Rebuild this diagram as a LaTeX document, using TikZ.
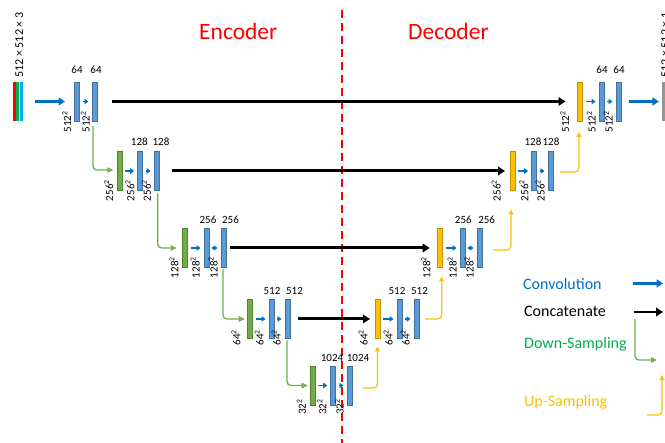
\documentclass[tikz,border=0pt]{standalone}
\usepackage{fontspec}
\setmainfont{Carlito}
\usetikzlibrary{arrows.meta}
\definecolor{convblue}{RGB}{0,112,192}
\definecolor{barblue}{RGB}{91,155,213}
\definecolor{barblueD}{RGB}{65,113,156}
\definecolor{bargreen}{RGB}{112,173,71}
\definecolor{bargreenD}{RGB}{84,130,53}
\definecolor{baryellow}{RGB}{255,192,0}
\definecolor{baryellowD}{RGB}{191,144,0}
\definecolor{downgreen}{RGB}{112,173,71}
\definecolor{legendgreen}{RGB}{0,176,80}
\definecolor{upyellow}{RGB}{255,192,0}
\definecolor{inred}{RGB}{255,0,0}
\definecolor{ingreen}{RGB}{0,176,80}
\definecolor{incyan}{RGB}{0,176,240}
\definecolor{outgray}{RGB}{150,150,150}
\tikzset{
  barbase/.style={line width=0.6pt, minimum width=5pt, minimum height=39pt, inner sep=0pt, outer sep=0pt},
  bluebar/.style={barbase, fill=barblue, draw=barblueD},
  greenbar/.style={barbase, fill=bargreen, draw=bargreenD},
  yellowbar/.style={barbase, fill=baryellow, draw=baryellowD},
  inbar/.style={minimum width=3pt, minimum height=39pt, inner sep=0pt, outer sep=0pt},
  convarr/.style={convblue, line width=2.2pt, -{Triangle[length=6.5pt,width=8pt]}},
  sconvarr/.style={convblue, line width=1.8pt, -{Triangle[length=4pt,width=5.5pt]}},
  catarr/.style={black, line width=3pt, -{Triangle[length=7pt,width=8.5pt]}},
  downarr/.style={downgreen, line width=1.3pt, rounded corners=4pt, -{Triangle[length=6pt,width=5.5pt,fill=downgreen!55]}},
  uparr/.style={upyellow, line width=1.2pt, rounded corners=4pt, -{Triangle[length=5pt,width=5pt]}},
  numlab/.style={font=\fontsize{11}{13}\selectfont, inner sep=0pt, anchor=base},
  dimlab/.style={font=\fontsize{11}{13}\selectfont, inner sep=0pt, rotate=90, anchor=south},
  headlab/.style={font=\fontsize{23.5}{28}\selectfont, text=red, inner sep=0pt, anchor=base west},
  leglab/.style={font=\fontsize{16}{19}\selectfont, inner sep=0pt, anchor=base west},
}
\newcommand{\sq}[1]{#1\textsuperscript{2}}
\begin{document}
\begin{tikzpicture}[x=1pt,y=-1pt]
\clip (0,0) rectangle (665,443);
\fill[white] (0,0) rectangle (665,443);

% headers and divider
\node[headlab] (enc) at (199,39.3) {Encoder};
\node[headlab] (dec) at (408,39.3) {Decoder};
\draw[red, line width=2pt, dash pattern=on 8pt off 5pt] (341.7,10) -- (341.7,445);

% ---------- level 1 ----------
\node[inbar, fill=inred] (inR) at (14.7,101.5) {};
\node[inbar, fill=ingreen] (inG) at (17.8,101.5) {};
\node[inbar, fill=incyan] (inC) at (21.7,101.5) {};
\node[font=\fontsize{12}{14}\selectfont, inner sep=0pt, rotate=90, anchor=south west] (inlab) at (23.5,78) {512 × 512 × 3};
\node[bluebar] (L1a) at (77,101.5) {};
\node[bluebar] (L1b) at (94.5,101.5) {};
\node[yellowbar] (Y1) at (580,101.5) {};
\node[bluebar] (R1a) at (601.5,101.5) {};
\node[bluebar] (R1b) at (618.5,101.5) {};
\node[inbar, minimum width=3.5pt, fill=outgray] (out) at (663.7,101.5) {};
\node[font=\fontsize{12}{14}\selectfont, inner sep=0pt, rotate=90, anchor=south west] (outlab) at (669.5,78) {512 × 512 × 1};

% ---------- level 2 ----------
\node[greenbar] (G2) at (119.8,171) {};
\node[bluebar] (L2a) at (140.2,171) {};
\node[bluebar] (L2b) at (156.7,171) {};
\node[yellowbar] (Y2) at (512.5,171) {};
\node[bluebar] (R2a) at (534.2,171) {};
\node[bluebar] (R2b) at (550.5,171) {};

% ---------- level 3 ----------
\node[greenbar] (G3) at (185.2,248) {};
\node[bluebar] (L3a) at (206.5,248) {};
\node[bluebar] (L3b) at (223.5,248) {};
\node[yellowbar] (Y3) at (440.2,248) {};
\node[bluebar] (R3a) at (462.5,248) {};
\node[bluebar] (R3b) at (479.5,248) {};

% ---------- level 4 ----------
\node[greenbar] (G4) at (250.2,319) {};
\node[bluebar] (L4a) at (271.5,319) {};
\node[bluebar] (L4b) at (287.5,319) {};
\node[yellowbar] (Y4) at (377.5,319) {};
\node[bluebar] (R4a) at (399.5,319) {};
\node[bluebar] (R4b) at (416.5,319) {};

% ---------- level 5 ----------
\node[greenbar] (G5) at (312.7,385.5) {};
\node[bluebar] (B5a) at (333.2,385.5) {};
\node[bluebar] (B5b) at (349.5,385.5) {};

% channel numbers
\node[numlab] (n1a) at (77,74) {64};
\node[numlab] (n1b) at (96,74) {64};
\node[numlab] (m1a) at (602,74) {64};
\node[numlab] (m1b) at (619,74) {64};
\node[numlab] (n2a) at (139.3,146) {128};
\node[numlab] (n2b) at (161,146) {128};
\node[numlab] (m2a) at (533,146) {128};
\node[numlab] (m2b) at (551,146) {128};
\node[numlab] (n3a) at (208,224) {256};
\node[numlab] (n3b) at (230.5,224) {256};
\node[numlab] (m3a) at (463.3,224) {256};
\node[numlab] (m3b) at (486.7,224) {256};
\node[numlab] (n4a) at (272,295) {512};
\node[numlab] (n4b) at (294.5,295) {512};
\node[numlab] (m4a) at (397,295) {512};
\node[numlab] (m4b) at (419.5,295) {512};
\node[numlab] (n5a) at (332,361.7) {1024};
\node[numlab] (n5b) at (358,361.7) {1024};

% spatial sizes
\node[dimlab] (d1a) at ([xshift=-3pt,yshift=-1pt]L1a.south west) {\sq{512}};
\node[dimlab] (d1b) at ([xshift=-2pt,yshift=-1pt]L1b.south west) {\sq{512}};
\node[dimlab] (e1y) at ([xshift=-8pt,yshift=-1pt]Y1.south west) {\sq{512}};
\node[dimlab] (e1a) at ([xshift=-3pt,yshift=-1pt]R1a.south west) {\sq{512}};
\node[dimlab] (e1b) at ([xshift=-3pt,yshift=-1pt]R1b.south west) {\sq{512}};
\node[dimlab] (d2g) at ([xshift=-4pt,yshift=0pt]G2.south west) {\sq{256}};
\node[dimlab] (d2a) at ([xshift=-3pt,yshift=0pt]L2a.south west) {\sq{256}};
\node[dimlab] (d2b) at ([xshift=-3pt,yshift=0pt]L2b.south west) {\sq{256}};
\node[dimlab] (e2y) at ([xshift=-9pt,yshift=0pt]Y2.south west) {\sq{256}};
\node[dimlab] (e2a) at ([xshift=-3pt,yshift=0pt]R2a.south west) {\sq{256}};
\node[dimlab] (e2b) at ([xshift=-3pt,yshift=0pt]R2b.south west) {\sq{256}};
\node[dimlab] (d3g) at ([xshift=-4pt,yshift=0pt]G3.south west) {\sq{128}};
\node[dimlab] (d3a) at ([xshift=-4pt,yshift=0pt]L3a.south west) {\sq{128}};
\node[dimlab] (d3b) at ([xshift=-3pt,yshift=0pt]L3b.south west) {\sq{128}};
\node[dimlab] (e3y) at ([xshift=-7pt,yshift=0pt]Y3.south west) {\sq{128}};
\node[dimlab] (e3a) at ([xshift=-3pt,yshift=0pt]R3a.south west) {\sq{128}};
\node[dimlab] (e3b) at ([xshift=-3pt,yshift=0pt]R3b.south west) {\sq{128}};
\node[dimlab] (d4g) at ([xshift=-7pt,yshift=1pt]G4.south west) {\sq{64}};
\node[dimlab] (d4a) at ([xshift=-5pt,yshift=1pt]L4a.south west) {\sq{64}};
\node[dimlab] (d4b) at ([xshift=-4pt,yshift=1pt]L4b.south west) {\sq{64}};
\node[dimlab] (e4y) at ([xshift=-7pt,yshift=1pt]Y4.south west) {\sq{64}};
\node[dimlab] (e4a) at ([xshift=-4pt,yshift=1pt]R4a.south west) {\sq{64}};
\node[dimlab] (e4b) at ([xshift=-4pt,yshift=1pt]R4b.south west) {\sq{64}};
\node[dimlab] (d5g) at ([xshift=-4pt,yshift=-2pt]G5.south west) {\sq{32}};
\node[dimlab] (d5a) at ([xshift=-4pt,yshift=-2pt]B5a.south west) {\sq{32}};
\node[dimlab] (d5b) at ([xshift=-3pt,yshift=-2pt]B5b.south west) {\sq{32}};

% convolution arrows
\draw[convarr] ([xshift=11.5pt]inC.east) -- ([xshift=-9.5pt]L1a.west);
\draw[convarr] ([xshift=8pt]R1b.east) -- ([xshift=-3pt]out.west);
\foreach \a/\b in {L1a/L1b, G2/L2a, L2a/L2b, Y2/R2a, R2a/R2b, Y1/R1a, R1a/R1b,
                   G3/L3a, L3a/L3b, Y3/R3a, R3a/R3b, G4/L4a, L4a/L4b, Y4/R4a, R4a/R4b,
                   G5/B5a, B5a/B5b}
  \draw[sconvarr] ([xshift=3pt]\a.east) -- ([xshift=-3.5pt]\b.west);

% concatenation arrows
\draw[catarr] ([xshift=15pt]L1b.east) -- ([xshift=-12pt]Y1.west);
\draw[catarr] ([xshift=13pt]L2b.east) -- ([xshift=-5pt]Y2.west);
\draw[catarr] ([xshift=4pt]L3b.east) -- ([xshift=-8pt]Y3.west);
\draw[catarr] ([xshift=8pt]L4b.east) -- ([xshift=-5pt]Y4.west);

% down-sampling arrows
\draw[downarr] ([xshift=-1.5pt,yshift=-5pt]L1b.south) |- ([xshift=-4pt,yshift=1pt]G2.west);
\draw[downarr] ([xshift=1pt,yshift=-3pt]L2b.south) |- ([xshift=-6pt]G3.west);
\draw[downarr] ([xshift=-0.5pt,yshift=-2pt]L3b.south) |- ([xshift=-3pt]G4.west);
\draw[downarr] ([xshift=-0.5pt,yshift=-2pt]L4b.south) |- ([xshift=-2.5pt]G5.west);

% up-sampling arrows
\draw[uparr] ([xshift=11pt,yshift=-2.5pt]B5b.east) -| ([yshift=-8pt]Y4.south);
\draw[uparr] ([xshift=6pt]R4b.east) -| ([xshift=1.5pt,yshift=-9pt]Y3.south);
\draw[uparr] ([xshift=11pt,yshift=-2pt]R3b.east) -| ([xshift=-1.5pt,yshift=-19pt]Y2.south);
\draw[uparr] ([xshift=7pt,yshift=-1pt]R2b.east) -| ([xshift=-1pt,yshift=-11pt]Y1.south);

% legend
\node[leglab, text=convblue] (lgconv) at (523,289.5) {Convolution};
\node[leglab, text=black] (lgcat) at (524,317) {Concatenate};
\node[leglab, text=legendgreen] (lgdown) at (524,348.3) {Down-Sampling};
\node[leglab, text=upyellow] (lgup) at (524,406.7) {Up-Sampling};
\coordinate (c1s) at (633,283.5);
\coordinate (c1e) at (663,283.5);
\coordinate (c2s) at (634,312);
\coordinate (c2e) at (663,312);
\coordinate (c3s) at (635,319);
\coordinate (c3e) at (657,360);
\coordinate (c4s) at (647,415);
\coordinate (c4e) at (662,375);
\draw[convarr] (c1s) -- (c1e);
\draw[catarr, line width=2.4pt] (c2s) -- (c2e);
\draw[downarr] (c3s) |- (c3e);
\draw[uparr] (c4s) -| (c4e);
\end{tikzpicture}
\end{document}
